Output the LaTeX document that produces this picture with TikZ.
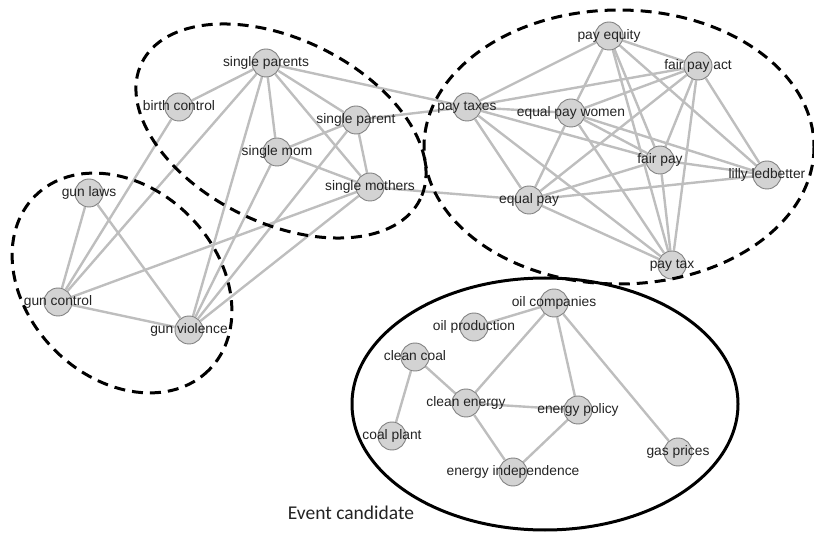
\documentclass[tikz,border=0pt]{standalone}
\usepackage{fontspec}
\setmainfont{Liberation Sans}
\newfontfamily\evfont{Carlito}
\definecolor{edgec}{RGB}{190,190,190}
\definecolor{vfill}{RGB}{211,211,211}
\definecolor{vborder}{RGB}{130,130,130}
\definecolor{txt}{RGB}{35,35,35}
\pgfdeclarelayer{bg}
\pgfsetlayers{bg,main}
\begin{document}
\begin{tikzpicture}[x=1pt,y=-1pt,
  vert/.style={circle, draw=vborder, fill=vfill, line width=0.9pt, minimum size=28pt, inner sep=0pt},
  lbl/.style={font=\fontsize{13.8}{16}\selectfont, text=txt, inner sep=0pt, text height=0.7em, text depth=0pt},
  edge/.style={draw=edgec, line width=2.4pt},
  grp/.style={draw=black, line width=3pt, dash pattern=on 11pt off 7pt},
  cand/.style={draw=black, line width=3pt}]
\useasboundingbox (0,0) rectangle (814,534);
% vertices
\node[vert] (sp)  at (266,63)  {};
\node[vert] (bc)  at (179,107) {};
\node[vert] (spa) at (356,120) {};
\node[vert] (sm)  at (277,152) {};
\node[vert] (smo) at (370,187) {};
\node[vert] (gl)  at (89,193)  {};
\node[vert] (gc)  at (58,302)  {};
\node[vert] (gv)  at (189,330) {};
\node[vert] (pt)  at (467,107) {};
\node[vert] (pe)  at (609,36)  {};
\node[vert] (fpa) at (698,66)  {};
\node[vert] (epw) at (571,113) {};
\node[vert] (fp)  at (660,160) {};
\node[vert] (ll)  at (767,175) {};
\node[vert] (ep)  at (529,200) {};
\node[vert] (ptx) at (672,265) {};
\node[vert] (oc)  at (554,303) {};
\node[vert] (op)  at (474,327) {};
\node[vert] (cc)  at (415,357) {};
\node[vert] (ce)  at (466,403) {};
\node[vert] (epo) at (578,410) {};
\node[vert] (cp)  at (392,436) {};
\node[vert] (gp)  at (678,452) {};
\node[vert] (ei)  at (513,472) {};
% edges
\begin{pgfonlayer}{bg}
\foreach \a/\b in {sp/bc, sp/spa, sp/sm, sp/smo, sp/gc, sp/gv, sp/pt,
  spa/sm, spa/smo, spa/pt, spa/gv, sm/smo, sm/gv,
  smo/ep, smo/gc, smo/gv, bc/gc, gl/gc, gl/gv, gc/gv,
  pt/pe, pt/fpa, pt/epw, pt/fp, pt/ep, pt/ptx,
  pe/fpa, pe/epw, pe/fp, pe/ll, pe/ptx,
  fpa/epw, fpa/ep, fpa/fp, fpa/ll, fpa/ptx,
  epw/ep, epw/fp, epw/ll, epw/ptx,
  fp/ll, fp/ep, fp/ptx, ep/ll, ep/ptx,
  oc/op, oc/ce, oc/epo, oc/gp, cc/ce, cc/cp, ce/epo, ce/ei, epo/ei}
  \draw[edge] (\a) -- (\b);
\end{pgfonlayer}
% labels
\node[lbl] (sp-l)  at (sp)  {single parents};
\node[lbl] (bc-l)  at (bc)  {birth control};
\node[lbl] (spa-l) at (spa) {single parent};
\node[lbl] (sm-l)  at (sm)  {single mom};
\node[lbl] (smo-l) at (smo) {single mothers};
\node[lbl] (gl-l)  at (gl)  {gun laws};
\node[lbl] (gc-l)  at (gc)  {gun control};
\node[lbl] (gv-l)  at (gv)  {gun violence};
\node[lbl] (pt-l)  at (pt)  {pay taxes};
\node[lbl] (pe-l)  at (pe)  {pay equity};
\node[lbl] (fpa-l) at (fpa) {fair pay act};
\node[lbl] (epw-l) at (epw) {equal pay women};
\node[lbl] (fp-l)  at (fp)  {fair pay};
\node[lbl] (ll-l)  at (ll)  {lilly ledbetter};
\node[lbl] (ep-l)  at (ep)  {equal pay};
\node[lbl] (ptx-l) at (ptx) {pay tax};
\node[lbl] (oc-l)  at (oc)  {oil companies};
\node[lbl] (op-l)  at (op)  {oil production};
\node[lbl] (cc-l)  at (cc)  {clean coal};
\node[lbl] (ce-l)  at (ce)  {clean energy};
\node[lbl] (epo-l) at (epo) {energy policy};
\node[lbl] (cp-l)  at (cp)  {coal plant};
\node[lbl] (gp-l)  at (gp)  {gas prices};
\node[lbl] (ei-l)  at (ei)  {energy independence};
% group outlines
\draw[grp, rotate around={-26:(281,131)}] (281,131) ellipse [x radius=155, y radius=92];
\draw[grp, rotate around={-45:(122,283)}] (122,283) ellipse [x radius=123, y radius=95];
\draw[grp] (619,147) ellipse [x radius=195, y radius=137];
\draw[cand] (545,404) ellipse [x radius=193, y radius=126];
\node[font=\evfont\fontsize{19.5}{22}\selectfont, text=txt, inner sep=0pt] (evt) at (351,513) {Event candidate};
\end{tikzpicture}
\end{document}
